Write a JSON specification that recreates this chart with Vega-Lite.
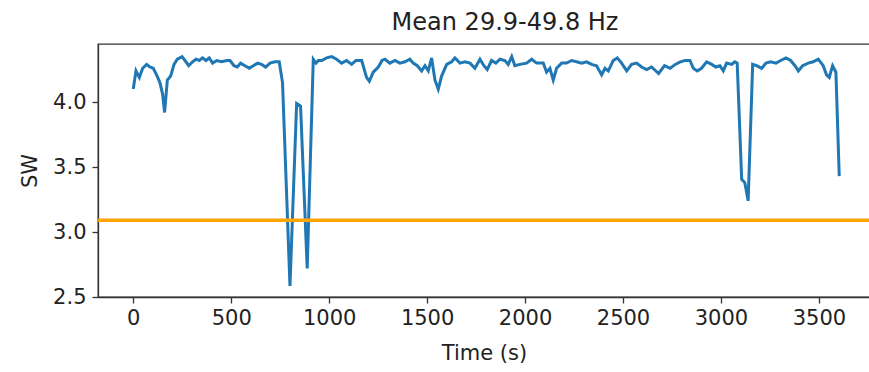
{
  "$schema": "https://vega.github.io/schema/vega-lite/v6.json",
  "width": 772,
  "height": 253,
  "autosize": {"type": "none"},
  "padding": {"left": 98, "top": 44, "right": 0, "bottom": 75},
  "config": {
    "font": "DejaVu Sans",
    "view": {"stroke": "#333333", "strokeWidth": 1.3},
    "axis": {
      "grid": false,
      "domainColor": "#333333",
      "domainWidth": 1.3,
      "tickColor": "#333333",
      "tickWidth": 1.3,
      "tickSize": 6,
      "labelFont": "DejaVu Sans",
      "labelFontSize": 21,
      "labelColor": "#222222",
      "titleFont": "DejaVu Sans",
      "titleFontSize": 21,
      "titleFontWeight": "normal",
      "titleColor": "#222222"
    }
  },
  "title": {
    "text": "Mean 29.9-49.8 Hz",
    "font": "DejaVu Sans",
    "fontSize": 24,
    "fontWeight": "normal",
    "color": "#222222",
    "anchor": "middle",
    "dx": 21,
    "offset": 9
  },
  "layer": [
    {
      "data": {
        "values": [
          {"t": 0, "sw": 4.10}, {"t": 14, "sw": 4.24}, {"t": 31, "sw": 4.19}, {"t": 48, "sw": 4.26},
          {"t": 68, "sw": 4.29}, {"t": 85, "sw": 4.27}, {"t": 102, "sw": 4.26}, {"t": 119, "sw": 4.21},
          {"t": 136, "sw": 4.15}, {"t": 150, "sw": 4.06}, {"t": 160, "sw": 3.92}, {"t": 174, "sw": 4.17},
          {"t": 191, "sw": 4.20}, {"t": 208, "sw": 4.29}, {"t": 225, "sw": 4.33}, {"t": 249, "sw": 4.35},
          {"t": 264, "sw": 4.32}, {"t": 283, "sw": 4.28}, {"t": 303, "sw": 4.31}, {"t": 320, "sw": 4.33},
          {"t": 337, "sw": 4.32}, {"t": 354, "sw": 4.34}, {"t": 371, "sw": 4.32}, {"t": 388, "sw": 4.34},
          {"t": 405, "sw": 4.30}, {"t": 426, "sw": 4.32}, {"t": 451, "sw": 4.31}, {"t": 477, "sw": 4.32},
          {"t": 494, "sw": 4.32}, {"t": 514, "sw": 4.28}, {"t": 531, "sw": 4.27}, {"t": 548, "sw": 4.30},
          {"t": 570, "sw": 4.28}, {"t": 592, "sw": 4.26}, {"t": 613, "sw": 4.28}, {"t": 635, "sw": 4.30},
          {"t": 655, "sw": 4.29}, {"t": 676, "sw": 4.27}, {"t": 698, "sw": 4.30}, {"t": 723, "sw": 4.31},
          {"t": 745, "sw": 4.31}, {"t": 762, "sw": 4.15}, {"t": 800, "sw": 2.585}, {"t": 834, "sw": 3.99},
          {"t": 854, "sw": 3.97}, {"t": 888, "sw": 2.72}, {"t": 919, "sw": 4.33}, {"t": 933, "sw": 4.30},
          {"t": 945, "sw": 4.32}, {"t": 962, "sw": 4.32}, {"t": 987, "sw": 4.34}, {"t": 1013, "sw": 4.35},
          {"t": 1038, "sw": 4.33}, {"t": 1064, "sw": 4.30}, {"t": 1089, "sw": 4.32}, {"t": 1115, "sw": 4.29},
          {"t": 1137, "sw": 4.32}, {"t": 1166, "sw": 4.32}, {"t": 1191, "sw": 4.19}, {"t": 1205, "sw": 4.16},
          {"t": 1225, "sw": 4.23}, {"t": 1251, "sw": 4.27}, {"t": 1270, "sw": 4.32}, {"t": 1285, "sw": 4.33},
          {"t": 1310, "sw": 4.30}, {"t": 1336, "sw": 4.32}, {"t": 1361, "sw": 4.30}, {"t": 1387, "sw": 4.31},
          {"t": 1412, "sw": 4.33}, {"t": 1429, "sw": 4.30}, {"t": 1450, "sw": 4.28}, {"t": 1472, "sw": 4.24},
          {"t": 1489, "sw": 4.28}, {"t": 1506, "sw": 4.24}, {"t": 1523, "sw": 4.34}, {"t": 1540, "sw": 4.17},
          {"t": 1557, "sw": 4.10}, {"t": 1574, "sw": 4.20}, {"t": 1600, "sw": 4.29}, {"t": 1625, "sw": 4.31},
          {"t": 1642, "sw": 4.34}, {"t": 1668, "sw": 4.30}, {"t": 1693, "sw": 4.31}, {"t": 1719, "sw": 4.30},
          {"t": 1744, "sw": 4.26}, {"t": 1770, "sw": 4.33}, {"t": 1790, "sw": 4.28}, {"t": 1807, "sw": 4.25},
          {"t": 1829, "sw": 4.32}, {"t": 1851, "sw": 4.30}, {"t": 1872, "sw": 4.33}, {"t": 1897, "sw": 4.32},
          {"t": 1914, "sw": 4.29}, {"t": 1932, "sw": 4.35}, {"t": 1948, "sw": 4.28}, {"t": 1974, "sw": 4.29},
          {"t": 2008, "sw": 4.30}, {"t": 2034, "sw": 4.33}, {"t": 2059, "sw": 4.30}, {"t": 2093, "sw": 4.30},
          {"t": 2110, "sw": 4.23}, {"t": 2127, "sw": 4.26}, {"t": 2144, "sw": 4.17}, {"t": 2161, "sw": 4.26},
          {"t": 2187, "sw": 4.30}, {"t": 2212, "sw": 4.30}, {"t": 2238, "sw": 4.32}, {"t": 2263, "sw": 4.31},
          {"t": 2289, "sw": 4.30}, {"t": 2314, "sw": 4.31}, {"t": 2340, "sw": 4.29}, {"t": 2365, "sw": 4.28},
          {"t": 2391, "sw": 4.21}, {"t": 2408, "sw": 4.26}, {"t": 2425, "sw": 4.24}, {"t": 2450, "sw": 4.32},
          {"t": 2471, "sw": 4.34}, {"t": 2493, "sw": 4.30}, {"t": 2519, "sw": 4.24}, {"t": 2544, "sw": 4.29},
          {"t": 2570, "sw": 4.30}, {"t": 2595, "sw": 4.27}, {"t": 2621, "sw": 4.25}, {"t": 2646, "sw": 4.27},
          {"t": 2682, "sw": 4.22}, {"t": 2712, "sw": 4.28}, {"t": 2741, "sw": 4.26}, {"t": 2767, "sw": 4.29},
          {"t": 2792, "sw": 4.31}, {"t": 2817, "sw": 4.32}, {"t": 2842, "sw": 4.32}, {"t": 2859, "sw": 4.26},
          {"t": 2879, "sw": 4.24}, {"t": 2901, "sw": 4.26}, {"t": 2927, "sw": 4.31}, {"t": 2953, "sw": 4.29},
          {"t": 2974, "sw": 4.27}, {"t": 2995, "sw": 4.28}, {"t": 3012, "sw": 4.24}, {"t": 3029, "sw": 4.30},
          {"t": 3055, "sw": 4.29}, {"t": 3071, "sw": 4.31}, {"t": 3083, "sw": 4.30}, {"t": 3106, "sw": 3.405},
          {"t": 3122, "sw": 3.38}, {"t": 3139, "sw": 3.24}, {"t": 3162, "sw": 4.29}, {"t": 3182, "sw": 4.28},
          {"t": 3208, "sw": 4.26}, {"t": 3230, "sw": 4.30}, {"t": 3254, "sw": 4.31}, {"t": 3281, "sw": 4.30},
          {"t": 3305, "sw": 4.32}, {"t": 3332, "sw": 4.34}, {"t": 3356, "sw": 4.32}, {"t": 3378, "sw": 4.28},
          {"t": 3395, "sw": 4.24}, {"t": 3417, "sw": 4.28}, {"t": 3446, "sw": 4.30}, {"t": 3471, "sw": 4.31},
          {"t": 3497, "sw": 4.33}, {"t": 3522, "sw": 4.28}, {"t": 3539, "sw": 4.21}, {"t": 3553, "sw": 4.19},
          {"t": 3570, "sw": 4.28}, {"t": 3587, "sw": 4.23}, {"t": 3604, "sw": 3.43}
        ]
      },
      "mark": {"type": "line", "color": "#1f77b4", "strokeWidth": 3, "clip": true},
      "encoding": {
        "x": {
          "field": "t", "type": "quantitative",
          "scale": {"domain": [-180, 3761], "nice": false, "zero": false},
          "axis": {"values": [0, 500, 1000, 1500, 2000, 2500, 3000, 3500], "format": "d", "title": "Time (s)", "labelPadding": 4, "titlePadding": 14, "labelFlush": false}
        },
        "y": {
          "field": "sw", "type": "quantitative",
          "scale": {"domain": [2.5, 4.447], "nice": false, "zero": false},
          "axis": {"values": [2.5, 3.0, 3.5, 4.0], "format": ".1f", "title": "SW", "labelPadding": 6, "titlePadding": 12, "labelFlush": false}
        }
      }
    },
    {
      "data": {"values": [{"threshold": 3.09}]},
      "mark": {"type": "rule", "color": "#FFA500", "strokeWidth": 3.5},
      "encoding": {
        "y": {"field": "threshold", "type": "quantitative"}
      }
    }
  ]
}
